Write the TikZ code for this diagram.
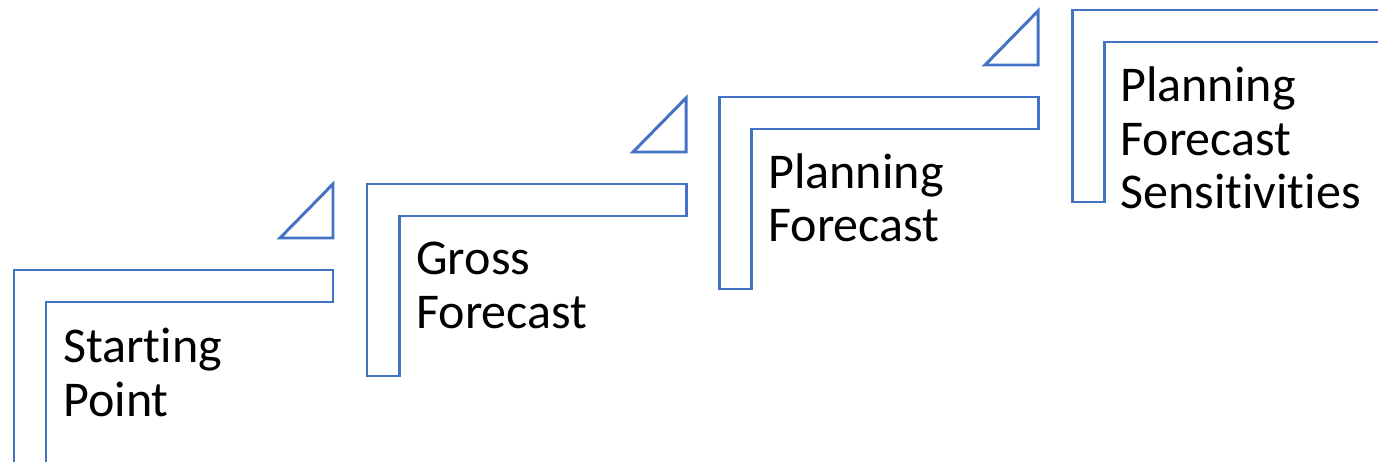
\documentclass[tikz,border=0pt]{standalone}
\usepackage{fontspec}
\setmainfont{Carlito}[Ligatures=NoCommon]
\usepackage{tikz}
\definecolor{stepblue}{RGB}{68,114,196}
\tikzset{
  stepline/.style={stepblue, line width=1.7pt, line join=miter},
  steplabel/.style={anchor=base west, inner sep=0pt, align=left,
    font=\fontsize{28.5}{30.7}\selectfont}
}

\begin{document}
\begin{tikzpicture}[x=0.02cm, y=-0.02cm]
    \clip (0, 0) rectangle (1378, 462);
    % first step (its foot runs past the lower edge)
    \begin{scope}[shift={(14, 270)}]
      \draw[stepline] (0, 200) -- (0, 0) -- (319, 0) -- (319, 32) -- (32, 32) -- (32, 200);
      \draw[stepline] (319, -32) -- (319, -86) -- (266, -32) -- cycle;
      \node[steplabel] (start) at (49, 146) {Starting\\Point};
    \end{scope}
    % second step
    \begin{scope}[shift={(367, 184)}]
      \draw[stepline] (0, 192) -- (0, 0) -- (319, 0) -- (319, 32) -- (32, 32) -- (32, 192) -- cycle;
      \draw[stepline] (319, -32) -- (319, -86) -- (266, -32) -- cycle;
      \node[steplabel] (gross) at (49, 144) {Gross\\Forecast};
    \end{scope}
    % third step
    \begin{scope}[shift={(719, 97)}]
      \draw[stepline] (0, 192) -- (0, 0) -- (319, 0) -- (319, 32) -- (32, 32) -- (32, 192) -- cycle;
      \draw[stepline] (319, -32) -- (319, -86) -- (266, -32) -- cycle;
      \node[steplabel] (plan) at (49, 145) {Planning\\Forecast};
    \end{scope}
    % fourth step
    \begin{scope}[shift={(1072, 10)}]
      \draw[stepline] (0, 192) -- (0, 0) -- (319, 0) -- (319, 32) -- (32, 32) -- (32, 192) -- cycle;
      \node[steplabel] (sens) at (48, 199) {Planning\\Forecast\\Sensitivities};
    \end{scope}
  \end{tikzpicture}
\end{document}
